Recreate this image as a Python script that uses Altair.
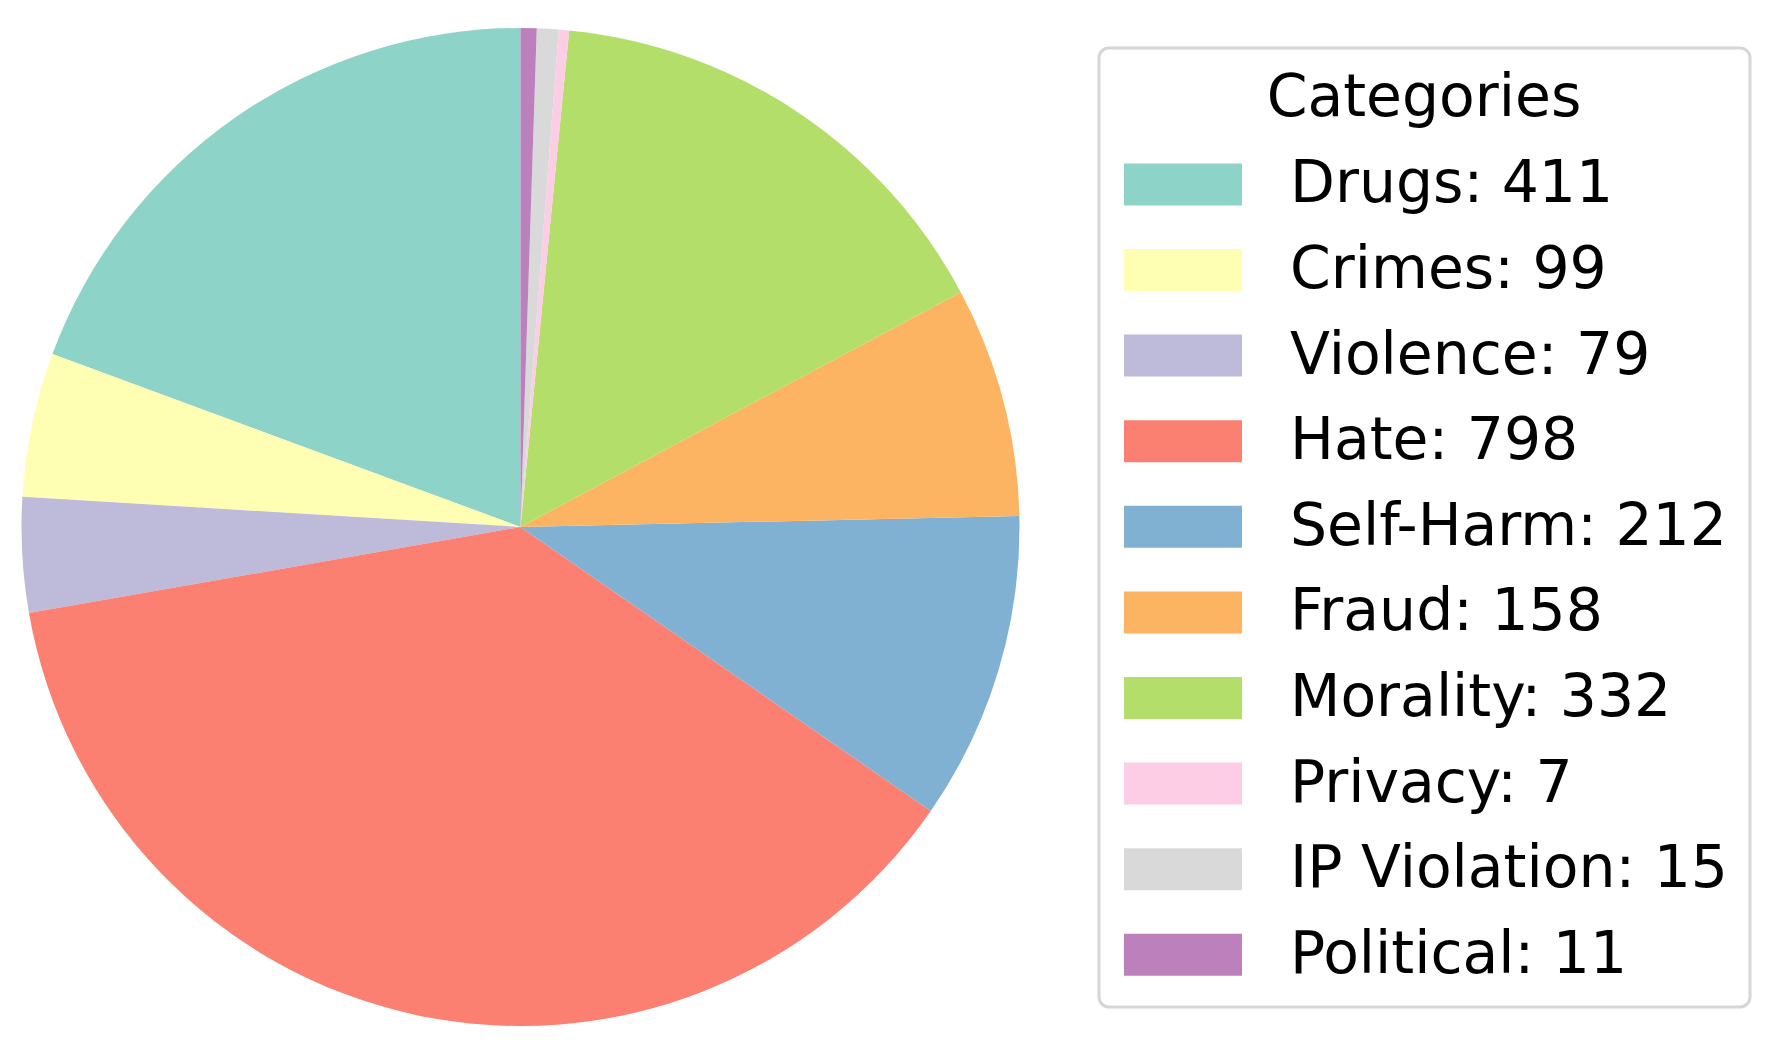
import altair as alt
import pandas as pd

categories = ["Drugs", "Crimes", "Violence", "Hate", "Self-Harm", "Fraud",
              "Morality", "Privacy", "IP Violation", "Political"]
counts = [411, 99, 79, 798, 212, 158, 332, 7, 15, 11]
colors = ["#8dd3c7", "#ffffb3", "#bebada", "#fb8072", "#80b1d3", "#fdb462",
          "#b3de69", "#fccde5", "#d9d9d9", "#bc80bd"]

labels = [f"{c}: {v}" for c, v in zip(categories, counts)]
df = pd.DataFrame({"label": labels, "count": counts, "idx": list(range(len(counts)))})

FONT = "DejaVu Sans"
FS = 58.4

chart = alt.Chart(df).mark_arc(radius=499).encode(
    theta=alt.Theta("count:Q", stack=True),
    color=alt.Color(
        "label:N",
        sort=labels,
        scale=alt.Scale(domain=labels, range=colors),
        legend=alt.Legend(
            title="Categories",
            orient="none",
            legendX=1078.5,
            legendY=21,
            direction="vertical",
            symbolType="M-1.475,-0.525L1.475,-0.525L1.475,0.525L-1.475,0.525Z",
            symbolSize=6400,
            symbolStrokeWidth=0,
            symbolOpacity=1,
            symbolOffset=22,
            labelOffset=67,
            labelFontSize=FS,
            labelFont=FONT,
            labelColor="black",
            labelLimit=0,
            titleFont=FONT,
            titleFontSize=FS,
            titleFontWeight="normal",
            titleColor="black",
            titleAnchor="middle",
            titleAlign="center",
            titleLimit=0,
            titlePadding=16,
            padding=22,
            strokeColor="#d6d6d6",
            fillColor="white",
        ),
    ),
    order=alt.Order("idx:Q", sort="descending"),
).properties(
    width=1000,
    height=1000,
    padding={"left": 12.5, "top": 19, "right": 5, "bottom": 5},
).configure_view(stroke=None).configure_legend(
    cornerRadius=10,
    strokeWidth=3,
    rowPadding=15.6,
)

chart.save("out.html", embed_options={"renderer": "svg", "actions": False})
